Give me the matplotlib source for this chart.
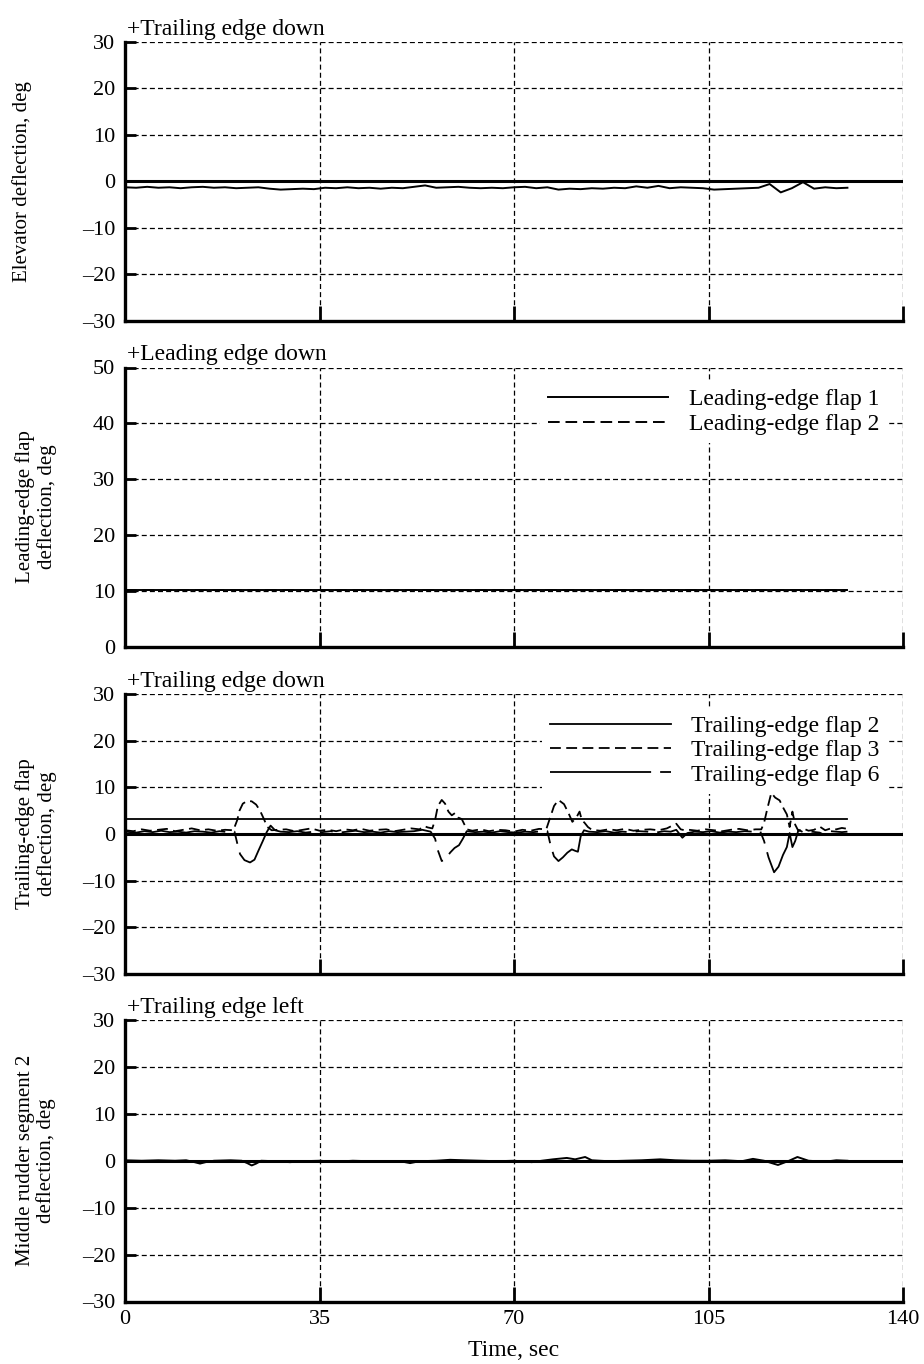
import numpy as np
import matplotlib
matplotlib.use("Agg")
import matplotlib.pyplot as plt

plt.rcParams['font.family'] = ['Liberation Serif', 'DejaVu Serif']

# ---------------- data ----------------
x_ticks = [0, 35, 70, 105, 140]

# Elevator deflection (sampled every 2 s from 0 to 130 s)
elev_t = np.arange(0, 131, 2)
elev_v = [-1.3, -1.4, -1.2, -1.4, -1.3, -1.5, -1.3, -1.2, -1.4, -1.3,
          -1.5, -1.4, -1.3, -1.6, -1.8, -1.7, -1.6, -1.7, -1.4, -1.5,
          -1.3, -1.5, -1.4, -1.6, -1.4, -1.5, -1.2, -0.9, -1.4, -1.3,
          -1.2, -1.4, -1.5, -1.4, -1.5, -1.3, -1.2, -1.5, -1.3, -1.8,
          -1.6, -1.7, -1.5, -1.6, -1.4, -1.5, -1.1, -1.4, -1.0, -1.5,
          -1.3, -1.4, -1.5, -1.8, -1.7, -1.6, -1.5, -1.4, -0.6, -2.4,
          -1.5, -0.2, -1.6, -1.3, -1.5, -1.4]

# Leading-edge flaps
lef_t = [0, 130]
lef1_v = [10.1, 10.1]
lef2_v = [10.2, 10.2]

# Trailing-edge flap 2
tef2_t = [0, 130]
tef2_v = [3.3, 3.3]

# Trailing-edge flap 3
tef3_t = [0, 1.5, 3, 4.5, 6, 7.5, 9, 10.5, 12, 13.5,
          15, 16.5, 18, 19.5, 20.2, 20.6, 21.2, 22.0, 22.8, 23.6,
          24.3, 25.0, 25.6, 26.4, 27.5, 29, 30.5, 32, 33.5, 35,
          36.5, 38, 39.5, 41, 42.5, 44, 45.5, 47, 48.5, 50,
          51.5, 53, 53.8, 54.5, 55.3, 55.8, 56.3, 57.0, 57.6, 58.2,
          58.8, 59.4, 60.0, 60.6, 61.5, 62.5, 64, 65.5, 67, 68.5,
          70, 71.5, 73, 74.5, 75.8, 76.5, 77.2, 78.0, 79.0, 79.8,
          80.5, 81.2, 81.8, 82.2, 82.7, 83.3, 84.0, 85.5, 87, 88.5,
          90, 91.5, 93, 94.5, 96, 97.5, 98.5, 99.2, 100.0, 100.7,
          101.5, 103, 104.5, 106, 107.5, 109, 110.5, 112, 113.5, 114.5,
          115.0, 115.6, 116.3, 117.0, 117.8, 118.5, 119.1, 119.6, 120.1, 120.6,
          121.2, 122, 123, 124, 125, 126, 127, 128, 129, 130]
tef3_v = [0.8, 0.6, 1.0, 0.7, 0.9, 1.1, 0.6, 0.9, 1.2, 0.8,
          1.0, 0.7, 0.9, 0.8, 3.0, 5.0, 6.5, 7.1, 7.0, 6.3,
          5.0, 3.2, 1.5, 0.8, 0.9, 1.0, 0.6, 0.9, 1.2, 0.7,
          0.9, 0.6, 1.0, 0.8, 1.1, 0.7, 0.9, 1.0, 0.6, 0.9,
          1.2, 1.0, 1.7, 1.4, 1.2, 3.0, 6.0, 7.3, 6.5, 4.8,
          4.0, 4.5, 3.5, 3.2, 1.0, 0.7, 1.0, 0.6, 0.9, 0.8,
          0.5, 0.9, 0.7, 1.1, 1.0, 3.5, 6.0, 7.3, 6.4, 4.5,
          2.6, 3.5, 4.8, 3.0, 2.4, 1.5, 0.9, 0.7, 1.0, 0.8,
          1.1, 0.7, 0.9, 1.0, 0.8, 1.2, 1.8, 2.2, 1.0, 0.8,
          0.9, 0.7, 1.0, 0.8, 0.6, 0.9, 1.1, 0.8, 1.0, 1.0,
          2.4, 5.5, 8.8, 7.8, 7.2, 5.5, 4.2, 1.5, 4.8, 2.0,
          0.6, 1.2, 0.7, 0.9, 1.6, 0.8, 1.2, 1.0, 1.3, 1.1]

# Trailing-edge flap 6
tef6_t = [0, 2, 3.5, 5, 6.5, 8, 9.5, 11, 12.5, 14,
          15.5, 17, 18.5, 19.7, 20.2, 20.7, 21.5, 22.5, 23.3, 24.0,
          24.8, 25.5, 26.2, 27.0, 28, 29.5, 31, 32.5, 34, 35.5,
          37, 38.5, 40, 41.5, 43, 44.5, 46, 47.5, 49, 50.5,
          52, 53.5, 55, 55.8, 56.3, 57.0, 57.8, 58.5, 59.3, 60.1,
          60.8, 61.5, 63, 64.5, 66, 67.5, 69, 70.5, 72, 73.5,
          75, 76, 76.6, 77.2, 78.0, 78.8, 79.6, 80.4, 81.0, 81.5,
          82.0, 82.6, 83.5, 85, 86.5, 88, 89.5, 91, 92.5, 94,
          95.5, 97, 98.2, 99.2, 100.3, 101.2, 102.5, 104, 105.5, 107,
          108.5, 110, 111.5, 113, 114.3, 115.0, 115.8, 116.8, 117.6, 118.4,
          119.1, 119.6, 120.1, 120.6, 121.2, 122, 123.5, 125, 126, 127,
          128, 129, 130]
tef6_v = [0.5, 0.3, 0.6, 0.4, 0.7, 0.4, 0.5, 0.3, 0.6, 0.5,
          0.3, 0.6, 0.4, 0.5, -2.0, -4.3, -5.6, -6.1, -5.5, -3.6,
          -1.5, 0.4, 1.8, 0.8, 0.5, 0.4, 0.6, 0.3, 0.5, 0.4,
          0.6, 0.3, 0.5, 0.7, 0.4, 0.5, 0.3, 0.6, 0.4, 0.5,
          0.6, 0.9, 0.5, -1.0, -3.5, -5.8, -5.2, -4.0, -3.0, -2.4,
          -1.0, 0.6, 0.4, 0.5, 0.3, 0.6, 0.4, 0.3, 0.5, 0.4,
          0.6, 0.6, -2.5, -4.8, -5.8, -5.0, -4.0, -3.3, -3.6, -3.8,
          -0.5, 0.8, 0.5, 0.4, 0.6, 0.3, 0.5, 0.4, 0.6, 0.5,
          0.3, 0.6, 0.5, 0.9, -0.8, 0.2, 0.5, 0.4, 0.6, 0.3,
          0.5, 0.4, 0.6, 0.5, 0.6, -1.5, -5.0, -8.2, -7.0, -4.5,
          -2.8, 0.2, -2.8, -1.5, 0.9, 0.4, 0.5, 0.3, -0.3, 0.6,
          0.5, 0.4, 0.5]

# Middle rudder segment 2
rud_t = [0, 3, 6, 9, 11, 12.5, 13.5, 14.5, 16, 19,
         21, 22, 22.8, 23.6, 24.5, 27, 29.7, 32, 35, 38,
         41, 44, 47, 49.5, 51.3, 53, 56, 58.5, 61, 64,
         67, 70, 73.2, 75, 77, 79.5, 81, 82.8, 84, 87,
         90, 93, 96.3, 99, 102, 105, 108, 111, 113, 115,
         117.5, 119.5, 121, 123, 126, 128, 130]
rud_v = [0.1, 0.0, 0.1, 0.0, 0.1, -0.3, -0.6, -0.3, 0.0, 0.1,
         0.0, -0.5, -1.0, -0.6, 0.0, -0.1, -0.3, -0.1, 0.0, -0.2,
         0.0, -0.1, -0.2, -0.1, -0.5, -0.1, 0.0, 0.2, 0.1, 0.0,
         -0.1, 0.0, -0.3, 0.0, 0.3, 0.6, 0.3, 0.8, 0.1, -0.1,
         0.0, 0.1, 0.3, 0.1, 0.0, 0.0, 0.1, -0.1, 0.4, 0.0,
         -0.9, 0.0, 0.8, 0.0, -0.2, 0.1, 0.0]

# ---------------- layout ----------------
W, H = 924, 1364
fig = plt.figure(figsize=(W / 100, H / 100), dpi=100)

left_px, right_px = 125, 903
panels_px = [(42, 320.5), (367.5, 646.5), (694, 974), (1020, 1301.5)]
ylims = [(-30, 30), (0, 50), (-30, 30), (-30, 30)]
yticks = [np.arange(-30, 31, 10), np.arange(0, 51, 10),
          np.arange(-30, 31, 10), np.arange(-30, 31, 10)]
titles = ['+Trailing edge down', '+Leading edge down',
          '+Trailing edge down', '+Trailing edge left']
ylabels = ['Elevator deflection, deg',
           'Leading-edge flap\ndeflection, deg',
           'Trailing-edge flap\ndeflection, deg',
           'Middle rudder segment 2\ndeflection, deg']
ylabel_x = [22, 36, 36, 36]

FS_TICK = 16
FS_LAB = 15
FS_TITLE = 17
FS_LEG = 17
axes = []
for i, (top, bot) in enumerate(panels_px):
    ax = fig.add_axes([left_px / W, 1 - bot / H, (right_px - left_px) / W, (bot - top) / H])
    axes.append(ax)
    ax.set_xlim(0, 140)
    ax.set_ylim(*ylims[i])
    ax.set_xticks(x_ticks)
    ax.set_yticks(yticks[i])
    ax.set_yticklabels([str(v).replace('-', '\u2013') for v in yticks[i]])
    ax.grid(True, color='black', linestyle=(0, (4, 2.5)), linewidth=0.9)
    ax.set_axisbelow(True)
    for s in ['top', 'right']:
        ax.spines[s].set_visible(False)
    for s in ['left', 'bottom']:
        ax.spines[s].set_linewidth(2.4)
    ax.tick_params(axis='y', direction='in', length=8, width=2.0, labelsize=FS_TICK, pad=7)
    ax.tick_params(axis='x', direction='in', length=11, width=2.0, labelsize=FS_TICK, pad=6)
    if i < 3:
        ax.tick_params(axis='x', labelbottom=False)
    ax.annotate(titles[i], xy=(0, 1), xycoords='axes fraction', xytext=(1.5, 1.5),
                textcoords='offset points', ha='left', va='bottom', fontsize=FS_TITLE)
    cy = (top + bot) / 2
    fig.text(ylabel_x[i] / W, 1 - cy / H, ylabels[i], rotation=90, ha='center',
             va='center', fontsize=FS_LAB, linespacing=1.1, multialignment='center')
    if i != 1:
        ax.axhline(0, color='black', linewidth=2.2, zorder=3)

ax1, ax2, ax3, ax4 = axes

leg_kw = dict(loc='upper right', bbox_to_anchor=(0.995, 0.995), fontsize=FS_LEG,
              handlelength=5.1, handletextpad=0.85, labelspacing=0.12,
              frameon=True, fancybox=False, framealpha=1.0, borderpad=0.35)

# Panel 1
ax1.plot(elev_t, elev_v, color='black', linewidth=1.4, zorder=4)

# Panel 2
ax2.plot(lef_t, lef1_v, color='black', linewidth=1.4, label='Leading-edge flap 1', zorder=4)
ax2.plot(lef_t, lef2_v, color='black', linewidth=1.4, linestyle=(0, (6, 3)),
         label='Leading-edge flap 2', zorder=4)
leg2 = ax2.legend(**leg_kw)
leg2.get_frame().set_edgecolor('white')
leg2.get_frame().set_linewidth(0)

# Panel 3
ax3.plot(tef2_t, tef2_v, color='black', linewidth=1.3, label='Trailing-edge flap 2', zorder=4)
ax3.plot(tef3_t, tef3_v, color='black', linewidth=1.3, linestyle=(0, (6, 3)),
         label='Trailing-edge flap 3', zorder=4)
ax3.plot(tef6_t, tef6_v, color='black', linewidth=1.3, linestyle=(0, (56, 5, 7, 5)),
         label='Trailing-edge flap 6', zorder=4)
leg3 = ax3.legend(**leg_kw)
leg3.get_frame().set_edgecolor('white')
leg3.get_frame().set_linewidth(0)

# Panel 4
ax4.plot(rud_t, rud_v, color='black', linewidth=1.4, zorder=4)
ax4.set_xticklabels([str(v) for v in x_ticks])
fig.text(514 / W, 1 - 1350 / H, 'Time, sec', ha='center', va='center', fontsize=FS_TITLE)

fig.savefig('out.png', dpi=100)
